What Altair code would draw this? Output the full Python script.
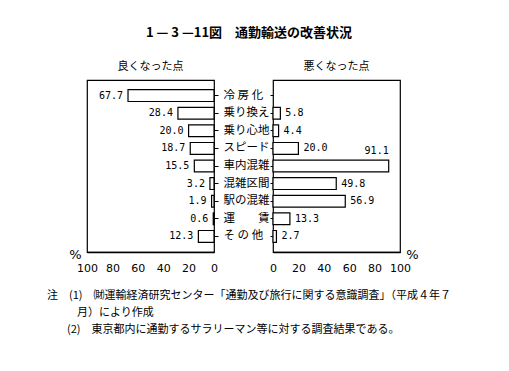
import altair as alt
import pandas as pd

categories = ["冷 房 化", "乗り換え", "乗り心地", "スピード", "車内混雑", "混雑区間", "駅の混雑", "運　　賃", "そ の 他"]
better = [67.7, 28.4, 20.0, 18.7, 15.5, 3.2, 1.9, 0.6, 12.3]
worse = [None, 5.8, 4.4, 20.0, 91.1, 49.8, 56.9, 13.3, 2.7]
ticks = [0, 20, 40, 60, 80, 100]

main_title = "1 — 3 —11図　通勤輸送の改善状況"
left_title = "良くなった点"
right_title = "悪くなった点"
note1 = "注　(1)　㈶運輸経済研究センター「通勤及び旅行に関する意識調査」（平成４年７"
note2 = "月）により作成"
note3 = "(2)　東京都内に通勤するサラリーマン等に対する調査結果である。"

df = pd.DataFrame({"cat": categories, "better": better, "worse": worse})

JP = "Noto Sans CJK JP"
NUM = "DejaVu Sans Mono"
W, H = 127, 172

yscale = alt.Scale(domain=categories, paddingInner=0.33, paddingOuter=0.55)

xaxis_common = dict(values=ticks, grid=False, ticks=False, domainColor="black", domainWidth=1.5,
                    labelFont="DejaVu Sans", labelFontSize=11, labelColor="black", labelPadding=10,
                    labelOverlap=False, labelFlush=False,
                    title="%", titleFont="DejaVu Sans", titleFontSize=13, titleFontWeight="normal",
                    titleColor="black", titleY=-4)

left_base = alt.Chart(df).encode(
    x=alt.X("better:Q", scale=alt.Scale(domain=[0, 100], reverse=True),
            axis=alt.Axis(**xaxis_common, titleX=-12, titleAlign="center")),
    y=alt.Y("cat:N", sort=categories, scale=yscale,
            axis=alt.Axis(orient="right", labels=False, tickSize=4, tickColor="black",
                          domain=False, title=None)),
)
nbase = alt.Chart(pd.DataFrame({"t": [0]}))
nstyle = dict(align="left", baseline="middle", font=JP, fontSize=11, color="black")
left = alt.layer(
    left_base.mark_bar(fill="white", stroke="black", strokeWidth=1.2),
    left_base.mark_text(align="right", dx=-5, font=NUM, fontSize=10, color="black").encode(
        text=alt.Text("better:Q", format=".1f")),
    nbase.mark_text(**nstyle).encode(x=alt.value(-40), y=alt.value(H + 44), text=alt.value(note1)),
    nbase.mark_text(**nstyle).encode(x=alt.value(-10), y=alt.value(H + 61), text=alt.value(note2)),
    nbase.mark_text(**nstyle).encode(x=alt.value(-20), y=alt.value(H + 78), text=alt.value(note3)),
).properties(width=W, height=H,
             title=alt.TitleParams(left_title, font=JP, fontSize=11, fontWeight="normal", offset=8))

right_base = alt.Chart(df).encode(
    x=alt.X("worse:Q", scale=alt.Scale(domain=[0, 100]),
            axis=alt.Axis(**xaxis_common, titleX=W + 12, titleAlign="center")),
    y=alt.Y("cat:N", sort=categories, scale=yscale,
            axis=alt.Axis(orient="left", labels=True, labelAlign="left", labelPadding=47,
                          labelFont=JP, labelFontSize=11.5, labelColor="black",
                          tickSize=3, tickColor="black", domain=False, title=None)),
)
right = alt.layer(
    right_base.transform_filter("isValid(datum.worse)").mark_bar(fill="white", stroke="black", strokeWidth=1.2),
    right_base.transform_filter("isValid(datum.worse) && datum.worse < 80").mark_text(
        align="left", dx=5, font=NUM, fontSize=10, color="black").encode(
        text=alt.Text("worse:Q", format=".1f")),
    right_base.transform_filter("isValid(datum.worse) && datum.worse >= 80").mark_text(
        align="right", dy=-15, font=NUM, fontSize=10, color="black").encode(
        text=alt.Text("worse:Q", format=".1f")),
).properties(width=W, height=H,
             title=alt.TitleParams(right_title, font=JP, fontSize=11, fontWeight="normal", offset=8))

chart = alt.hconcat(left, right, spacing=59, bounds="flush").properties(
    title=alt.TitleParams(main_title, font=JP, fontSize=13, fontWeight="bold", anchor="middle", offset=20),
    padding={"left": 38, "top": 19, "right": 5, "bottom": 5},
    background="white",
).configure_view(stroke="black", strokeWidth=1.2)

chart.save("out.html", embed_options={"renderer": "svg", "actions": False})
